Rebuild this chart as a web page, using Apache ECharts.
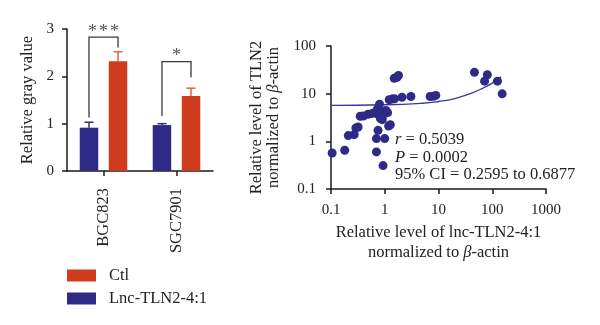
<!DOCTYPE html>
<html><head><meta charset="utf-8">
<script src="https://cdn.jsdelivr.net/npm/echarts@6/dist/echarts.min.js"></script>
<style>html,body{margin:0;padding:0;background:#fff}#c{width:600px;height:325px}</style>
</head><body><div id="c"></div>
<script>
// ---- data: bar chart ----
const categories = ['BGC823', 'SGC7901'];
const lncValues = [0.915, 0.97];
const lncErrors = [0.115, 0.03];
const ctlValues = [2.32, 1.585];
const ctlErrors = [0.2, 0.165];
const barTicks = [0, 1, 2, 3];
// significance brackets: [bracketTop, leftLegBottom, rightLegBottom]
const bracketTops = [2.83, 2.31];
const bracketLeftBottoms = [1.13, 1.16];
const bracketRightBottoms = [2.61, 1.98];
const sigLabels = ['***', '*'];

// ---- data: scatter ----
const scatterX = [0.105,0.18,0.21,0.27,0.29,0.32,
  0.35,0.40,0.49,0.58,0.67,0.72,0.77,0.80,
  0.72,0.80,0.86,0.95,1.05,1.13,0.83,0.90,0.89,
  1.18,1.27,0.75,0.70,1.00,0.70,0.93,
  1.21,1.37,1.52,2.09,3.07,
  7.0,8.1,8.9,
  1.5,1.69,1.8,
  46.6,81,72,125,153];
const scatterY = [0.57,0.65,1.32,1.38,1.9,2.0,
  3.35,3.4,3.7,3.85,4.1,4.6,5.2,6.0,
  3.8,3.65,3.9,4.25,4.45,4.0,3.0,2.85,3.2,
  2.09,2.23,1.7,1.14,1.14,0.6,0.31,
  7.45,7.7,7.8,8.4,8.7,
  8.7,8.8,9.2,
  21,22,24,
  28,25,18.3,18.3,9.9];
const fitX = [0.1, 1, 5, 10, 20, 40, 70, 100, 146];
const fitY = [5.7, 5.85, 6.3, 6.85, 7.9, 10.1, 13.4, 16.6, 22.5];
const xTickLabels = ['0.1', '1', '10', '100', '1000'];
const yTickLabels = ['0.1', '1', '10', '100'];
const statLines = ['r = 0.5039', 'P = 0.0002', '95% CI = 0.2595 to 0.6877'];

// ---- style ----
const FONT = 'Liberation Serif';
const FS = 16.5;
const BLUE = '#2f2a86';
const RED = '#d03b1d';
const RED_ERR = '#e2623f';
const AX = '#1a1a1a';
const TXT = '#222';
const BAR_W = 18.5;
const BAR_GAP = 0.57;
const OFF = (BAR_W + BAR_W * BAR_GAP) / 2;

const chart = echarts.init(document.getElementById('c'), null, {renderer: 'canvas'});

const errData = [];
categories.forEach((c, i) => {
  errData.push([i, lncValues[i], lncErrors[i], -1]);
  errData.push([i, ctlValues[i], ctlErrors[i], 1]);
});
const bracketData = categories.map((c, i) => [i, bracketTops[i], bracketLeftBottoms[i], bracketRightBottoms[i], i]);

const axisLine = {show: true, lineStyle: {color: AX, width: 1.5}};
const axisTick = {show: true, length: 5, lineStyle: {color: AX, width: 1.5}};
const italicRich = {i: {fontFamily: FONT, fontStyle: 'italic', fontSize: FS, color: TXT}};

const option = {
  animation: false,
  backgroundColor: '#fff',
  textStyle: {fontFamily: FONT},
  grid: [
    {left: 67, top: 29, width: 146, height: 142},
    {left: 331, top: 46, width: 215, height: 143}
  ],
  legend: {
    orient: 'vertical', left: 62, top: 262, itemWidth: 29, itemHeight: 12, itemGap: 6,
    icon: 'rect', data: ['Ctl', 'Lnc-TLN2-4:1'],
    textStyle: {fontFamily: FONT, fontSize: FS, color: TXT, padding: [0, 0, 0, 8]}
  },
  xAxis: [
    {gridIndex: 0, type: 'category', data: categories, axisLine,
     axisTick: {show: true, alignWithLabel: true, length: 5, lineStyle: {color: AX, width: 1.5}},
     axisLabel: {rotate: 90, fontFamily: FONT, fontSize: FS, color: TXT, margin: 17}},
    {gridIndex: 1, type: 'log', logBase: 10, min: parseFloat(xTickLabels[0]), max: parseFloat(xTickLabels[xTickLabels.length - 1]),
     axisLine: {...axisLine, onZero: false}, axisTick, splitLine: {show: false}, minorTick: {show: false},
     axisLabel: {fontFamily: FONT, fontSize: 15, color: TXT, margin: 14,
       formatter: v => xTickLabels.find(t => Math.abs(parseFloat(t) - v) / v < 1e-6) || ''},
     name: 'Relative level of lnc-TLN2-4:1\nnormalized to {i|β}-actin', nameLocation: 'middle', nameGap: 34,
     nameTextStyle: {fontFamily: FONT, fontSize: FS, color: TXT, lineHeight: 20, verticalAlign: 'top', rich: italicRich}}
  ],
  yAxis: [
    {gridIndex: 0, type: 'value', min: barTicks[0], max: barTicks[barTicks.length - 1], interval: 1,
     axisLine, axisTick, splitLine: {show: false},
     axisLabel: {fontFamily: FONT, fontSize: 15, color: TXT, margin: 13},
     name: 'Relative gray value', nameLocation: 'middle', nameGap: 31, nameRotate: 90,
     nameTextStyle: {fontFamily: FONT, fontSize: FS, color: TXT}},
    {gridIndex: 1, type: 'log', logBase: 10, min: parseFloat(yTickLabels[0]), max: parseFloat(yTickLabels[yTickLabels.length - 1]),
     axisLine: {...axisLine, onZero: false}, axisTick, splitLine: {show: false}, minorTick: {show: false},
     axisLabel: {fontFamily: FONT, fontSize: 15, color: TXT, margin: 15,
       formatter: v => yTickLabels.find(t => Math.abs(parseFloat(t) - v) / v < 1e-6) || ''},
     name: 'Relative level of TLN2\nnormalized to {i|β}-actin', nameLocation: 'middle', nameGap: 49, nameRotate: 90,
     nameTextStyle: {fontFamily: FONT, fontSize: FS, color: TXT, lineHeight: 17, rich: italicRich}}
  ],
  series: [
    {name: 'Lnc-TLN2-4:1', type: 'bar', xAxisIndex: 0, yAxisIndex: 0, data: lncValues,
     barWidth: BAR_W, barGap: (BAR_GAP * 100) + '%', itemStyle: {color: BLUE}},
    {name: 'Ctl', type: 'bar', xAxisIndex: 0, yAxisIndex: 0, data: ctlValues,
     barWidth: BAR_W, barGap: (BAR_GAP * 100) + '%', itemStyle: {color: RED}},
    {type: 'custom', xAxisIndex: 0, yAxisIndex: 0, data: errData, z: 1,
     renderItem: (params, api) => {
       const side = api.value(3);
       const b = api.coord([api.value(0), api.value(1)]);
       const t = api.coord([api.value(0), api.value(1) + api.value(2)]);
       const x = b[0] + side * OFF;
       const col = side < 0 ? BLUE : RED_ERR;
       return {type: 'group', children: [
         {type: 'line', shape: {x1: x, y1: b[1], x2: x, y2: t[1]}, style: {stroke: col, lineWidth: 1.5}},
         {type: 'line', shape: {x1: x - 4.5, y1: t[1], x2: x + 4.5, y2: t[1]}, style: {stroke: col, lineWidth: 1.5}}
       ]};
     }},
    {type: 'custom', xAxisIndex: 0, yAxisIndex: 0, data: bracketData, z: 3,
     renderItem: (params, api) => {
       const top = api.coord([api.value(0), api.value(1)]);
       const lb = api.coord([api.value(0), api.value(2)]);
       const rb = api.coord([api.value(0), api.value(3)]);
       const xl = top[0] - OFF, xr = top[0] + OFF;
       const label = sigLabels[api.value(4)];
       const n = label.length;
       const children = [
         {type: 'polyline', shape: {points: [[xl, lb[1]], [xl, top[1]], [xr, top[1]], [xr, rb[1]]]},
          style: {stroke: '#3a3a3a', lineWidth: 1.3, fill: null}}
       ];
       for (let k = 0; k < n; k++) {
         children.push({type: 'text', style: {text: label[k], x: top[0] + (k - (n - 1) / 2) * 11, y: top[1] + 4,
           fontFamily: FONT, fontSize: 18, fill: '#555', align: 'center', verticalAlign: 'bottom'}});
       }
       return {type: 'group', children};
     }},
    {type: 'scatter', xAxisIndex: 1, yAxisIndex: 1, symbolSize: 9, itemStyle: {color: BLUE, opacity: 1},
     data: scatterX.map((x, i) => [x, scatterY[i]]), z: 3},
    {type: 'line', xAxisIndex: 1, yAxisIndex: 1, smooth: true, showSymbol: false, symbol: 'none',
     lineStyle: {color: '#3b36a0', width: 1.3}, data: fitX.map((x, i) => [x, fitY[i]]), z: 2}
  ],
  graphic: [
    {type: 'text', left: 395, top: 131, style: {
      text: '{i|r} = 0.5039\n{i|P} = 0.0002\n' + statLines[2],
      fontFamily: FONT, fontSize: FS, fill: TXT, lineHeight: 17.5,
      rich: {i: {fontFamily: FONT, fontStyle: 'italic', fontSize: FS, fill: TXT, lineHeight: 17.5}}}}
  ]
};
chart.setOption(option);
</script></body></html>
